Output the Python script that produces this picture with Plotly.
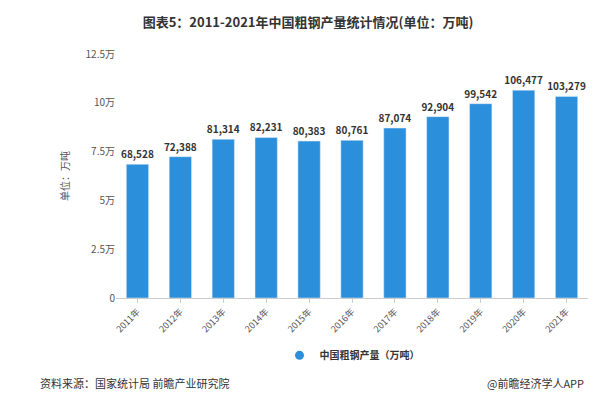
import plotly.graph_objects as go

years = ["2011年","2012年","2013年","2014年","2015年","2016年","2017年","2018年","2019年","2020年","2021年"]
values = [68528,72388,81314,82231,80383,80761,87074,92904,99542,106477,103279]
tick_vals = [0,25000,50000,75000,100000,125000]
tick_text = ["0","2.5万","5万","7.5万","10万","12.5万"]

font = "Noto Sans CJK SC"
color = "#2b8fdc"
fig = go.Figure(go.Bar(
    x=years, y=values, name="中国粗钢产量（万吨）", showlegend=False,
    marker_color=color, width=0.52,
    text=[f"{v:,}" for v in values], textposition="outside", constraintext="none",
    textfont=dict(size=10, color="#333", family=font, weight="bold"),
    cliponaxis=False,
))
fig.add_trace(go.Scatter(x=[None], y=[None], mode="markers", name="<b>中国粗钢产量（万吨）</b>",
                         marker=dict(symbol="circle", size=9, color=color)))
fig.update_layout(
    width=600, height=400, plot_bgcolor="white", paper_bgcolor="white",
    margin=dict(l=108, r=20, t=46, b=110, autoexpand=False),
    font=dict(family=font, size=10, color="#555"),
    title=dict(text="<b>图表5：2011-2021年中国粗钢产量统计情况(单位：万吨)</b>",
               x=0.5, xanchor="center", y=0.975, font=dict(size=13, color="#333")),
    showlegend=True,
    legend=dict(orientation="h", x=0.5, xanchor="center", y=-0.235, yanchor="middle",
                font=dict(size=10, color="#333")),
    yaxis=dict(range=[0,125000], tickvals=tick_vals, ticktext=tick_text,
               showgrid=False, zeroline=False, showline=False, ticks="",
               title=dict(text="单位：万吨", font=dict(size=10), standoff=14)),
    xaxis=dict(tickangle=-45, showline=True, linecolor="#ccc", ticks="outside",
               tickcolor="#ccc", ticklen=4, tickfont=dict(size=9), automargin=False),
)
fig.add_annotation(text="资料来源：国家统计局 前瞻产业研究院", xref="paper", yref="paper",
                   x=-0.165, y=-0.35, xanchor="left", yanchor="middle", showarrow=False,
                   font=dict(size=11, color="#333"))
fig.add_annotation(text="@前瞻经济学人APP", xref="paper", yref="paper",
                   x=0.995, y=-0.35, xanchor="right", yanchor="middle", showarrow=False,
                   font=dict(size=11, color="#333"))
fig.write_html("out.html")
